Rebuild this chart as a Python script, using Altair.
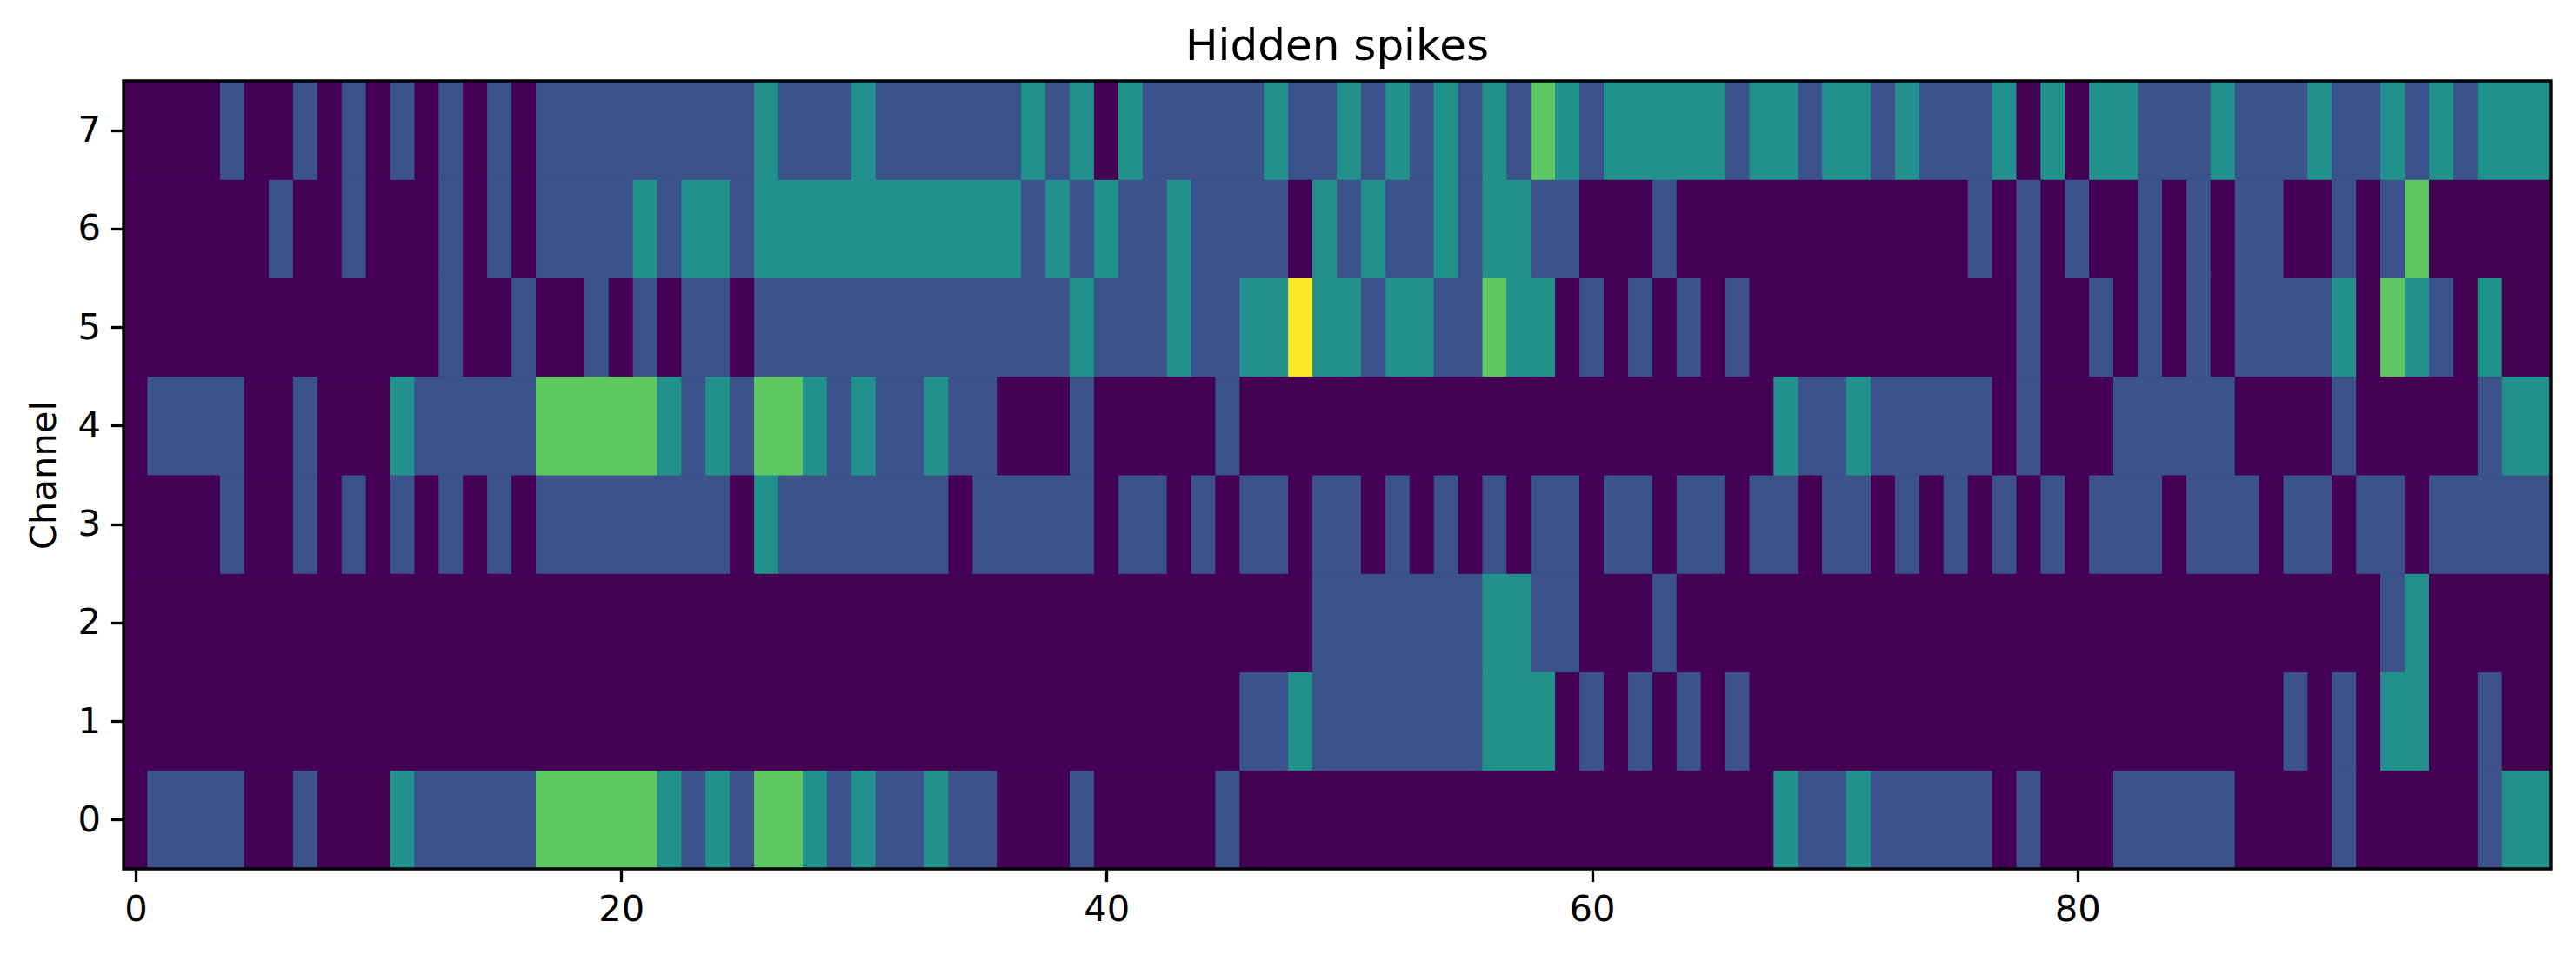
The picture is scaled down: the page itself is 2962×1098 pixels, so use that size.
import altair as alt
import pandas as pd

ch0 = [0,1,1,1,1,0,0,1,0,0, 0,2,1,1,1,1,1,3,3,3, 3,3,2,1,2,1,3,3,2,1, 2,1,1,2,1,1,0,0,0,1,
       0,0,0,0,0,1,0,0,0,0, 0,0,0,0,0,0,0,0,0,0, 0,0,0,0,0,0,0,0,2,1, 1,2,1,1,1,1,1,0,1,0,
       0,0,1,1,1,1,1,0,0,0, 0,1,0,0,0,0,0,1,2,2]
ch1 = [0,0,0,0,0,0,0,0,0,0, 0,0,0,0,0,0,0,0,0,0, 0,0,0,0,0,0,0,0,0,0, 0,0,0,0,0,0,0,0,0,0,
       0,0,0,0,0,0,1,1,2,1, 1,1,1,1,1,1,2,2,2,0, 1,0,1,0,1,0,1,0,0,0, 0,0,0,0,0,0,0,0,0,0,
       0,0,0,0,0,0,0,0,0,1, 0,1,0,2,2,0,0,1,0,0]
ch2 = [0,0,0,0,0,0,0,0,0,0, 0,0,0,0,0,0,0,0,0,0, 0,0,0,0,0,0,0,0,0,0, 0,0,0,0,0,0,0,0,0,0,
       0,0,0,0,0,0,0,0,0,1, 1,1,1,1,1,1,2,2,1,1, 0,0,0,1,0,0,0,0,0,0, 0,0,0,0,0,0,0,0,0,0,
       0,0,0,0,0,0,0,0,0,0, 0,0,0,1,2,0,0,0,0,0]
ch3 = [0,0,0,0,1,0,0,1,0,1, 0,1,0,1,0,1,0,1,1,1, 1,1,1,1,1,0,2,1,1,1, 1,1,1,1,0,1,1,1,1,1,
       0,1,1,0,1,0,1,1,0,1, 1,0,1,0,1,0,1,0,1,1, 0,1,1,0,1,1,0,1,1,0, 1,1,0,1,0,1,0,1,0,1,
       0,1,1,1,0,1,1,1,0,1, 1,0,1,1,0,1,1,1,1,1]
ch4 = [0,1,1,1,1,0,0,1,0,0, 0,2,1,1,1,1,1,3,3,3, 3,3,2,1,2,1,3,3,2,1, 2,1,1,2,1,1,0,0,0,1,
       0,0,0,0,0,1,0,0,0,0, 0,0,0,0,0,0,0,0,0,0, 0,0,0,0,0,0,0,0,2,1, 1,2,1,1,1,1,1,0,1,0,
       0,0,1,1,1,1,1,0,0,0, 0,1,0,0,0,0,0,1,2,2]
ch5 = [0,0,0,0,0,0,0,0,0,0, 0,0,0,1,0,0,1,0,0,1, 0,1,0,1,1,0,1,1,1,1, 1,1,1,1,1,1,1,1,1,2,
       1,1,1,2,1,1,2,2,4,2, 2,1,2,2,1,1,3,2,2,0, 1,0,1,0,1,0,1,0,0,0, 0,0,0,0,0,0,0,0,1,0,
       0,1,0,1,0,1,0,1,1,1, 1,2,0,3,2,1,0,2,0,0]
ch6 = [0,0,0,0,0,0,1,0,0,1, 0,0,0,1,0,1,0,1,1,1, 1,2,1,2,2,1,2,2,2,2, 2,2,2,2,2,2,2,1,2,1,
       2,1,1,2,1,1,1,1,0,2, 1,2,1,1,2,1,2,2,1,1, 0,0,0,1,0,0,0,0,0,0, 0,0,0,0,0,0,1,0,1,0,
       1,0,0,1,0,1,0,1,1,0, 0,1,0,1,3,0,0,0,0,0]
ch7 = [0,0,0,0,1,0,0,1,0,1, 0,1,0,1,0,1,0,1,1,1, 1,1,1,1,1,1,2,1,1,1, 2,1,1,1,1,1,1,2,1,2,
       0,2,1,1,1,1,1,2,1,1, 2,1,2,1,2,1,2,1,3,2, 1,2,2,2,2,2,1,2,2,1, 2,2,1,2,1,1,1,2,0,2,
       0,2,2,1,1,1,2,1,1,1, 2,1,1,2,1,2,1,2,2,2]

channels = [ch0, ch1, ch2, ch3, ch4, ch5, ch6, ch7]
x_ticks = [0, 20, 40, 60, 80]
y_ticks = [0, 1, 2, 3, 4, 5, 6, 7]
x_limits = [-0.5, 99.5]
y_limits = [-0.5, 7.5]
levels = [0, 1, 2, 3, 4]
colors = ["#440154", "#3b528b", "#21918c", "#5ec962", "#fde725"]

# one rect per run of equal neighbouring cells, so no antialiasing seams appear inside a run
rows = []
for c, vals in enumerate(channels):
    start = 0
    for t in range(1, len(vals) + 1):
        if t == len(vals) or vals[t] != vals[start]:
            rows.append({"x0": start - 0.5, "x1": t - 0.5, "y0": c - 0.5, "y1": c + 0.5, "v": vals[start]})
            start = t
df = pd.DataFrame(rows)
frame_df = pd.DataFrame({"x0": [x_limits[0]], "x1": [x_limits[1]], "y0": [y_limits[0]], "y1": [y_limits[1]]})

FONT = "DejaVu Sans"
x_scale = alt.Scale(domain=x_limits, nice=False, zero=False)
y_scale = alt.Scale(domain=y_limits, nice=False, zero=False)
col_scale = alt.Scale(domain=levels, range=colors)

x_axis = alt.Axis(
    values=x_ticks, title=None, grid=False, domain=False, format="d",
    tickColor="black", tickWidth=3.33, tickSize=14.6,
    labelFont=FONT, labelFontSize=41.67, labelColor="black", labelPadding=12,
    labelFlush=False, labelOverlap=False)
y_axis = alt.Axis(
    values=y_ticks, title="Channel", grid=False, domain=False, format="d",
    tickColor="black", tickWidth=3.33, tickSize=14.6,
    labelFont=FONT, labelFontSize=41.67, labelColor="black", labelPadding=12,
    labelFlush=False, labelOverlap=False,
    titleFont=FONT, titleFontSize=41.67, titleFontWeight="normal", titleColor="black",
    titlePadding=16)

base = alt.Chart(frame_df).mark_rect(fill=colors[0]).encode(
    x=alt.X("x0:Q", scale=x_scale, axis=x_axis),
    x2="x1:Q",
    y=alt.Y("y0:Q", scale=y_scale, axis=y_axis),
    y2="y1:Q",
)

cells = alt.Chart(df).mark_rect(strokeWidth=1).encode(
    x=alt.X("x0:Q", scale=x_scale, axis=x_axis),
    x2="x1:Q",
    y=alt.Y("y0:Q", scale=y_scale, axis=y_axis),
    y2="y1:Q",
    fill=alt.Fill("v:O", scale=col_scale, legend=None),
    stroke=alt.Stroke("v:O", scale=col_scale, legend=None),
)

frame = alt.Chart(frame_df).mark_rect(filled=False, stroke="black", strokeWidth=3.33).encode(
    x=alt.X("x0:Q", scale=x_scale, axis=x_axis),
    x2="x1:Q",
    y=alt.Y("y0:Q", scale=y_scale, axis=y_axis),
    y2="y1:Q",
)

chart = alt.layer(base, cells, frame).properties(
    width=2791,
    height=906,
    title=alt.TitleParams("Hidden spikes", font=FONT, fontSize=50, fontWeight="normal",
                          color="black", anchor="middle", offset=12),
    autosize=alt.AutoSizeParams(type="none"),
    padding={"left": 134, "top": 85, "right": 21, "bottom": 85},
    background="white",
).configure_view(stroke=None)

chart.save("out.html", embed_options={"renderer": "svg", "actions": False})
